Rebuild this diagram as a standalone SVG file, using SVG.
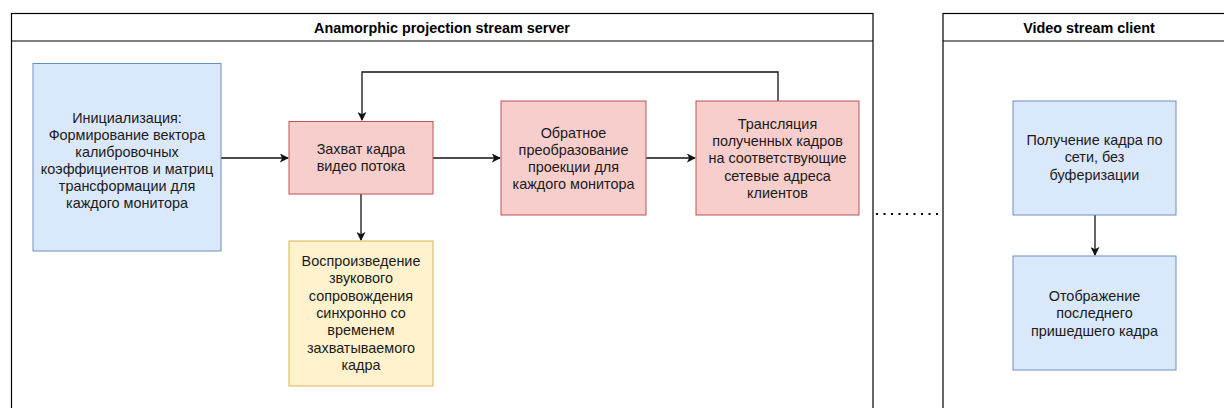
<svg xmlns="http://www.w3.org/2000/svg" width="1224" height="408" viewBox="0 0 1224 408">
<style>
text{font-family:"Liberation Sans",Arial,sans-serif;font-size:14.4px;fill:#1a1a1a;text-anchor:middle}
.title{font-weight:bold;fill:#000}
.pool{fill:none;stroke:#000;stroke-width:1.2}
.blue{fill:#dae8fc;stroke:#6c8ebf;stroke-width:1}
.red{fill:#f8cecc;stroke:#b85450;stroke-width:1}
.yellow{fill:#fff2cc;stroke:#d6b656;stroke-width:1}
.edge{fill:none;stroke:#111;stroke-width:1.3}
.dot{fill:none;stroke:#000;stroke-width:2;stroke-dasharray:2 5.5}
</style>
<defs>
<marker id="arr" viewBox="0 0 10 10" refX="9" refY="5" markerWidth="9" markerHeight="9" markerUnits="userSpaceOnUse" orient="auto">
<path d="M0,0 L10,5 L0,10 L2.5,5 z" fill="#111"/>
</marker>
</defs>
<rect width="1224" height="408" fill="#fff"/>
<g id="server">
<rect class="pool" x="11.5" y="13.5" width="861.5" height="420"/>
<line class="pool" x1="11.5" y1="41" x2="873" y2="41"/>
<text class="title" x="442" y="32.5">Anamorphic projection stream server</text>
</g>
<g id="client">
<rect class="pool" x="943" y="13.5" width="300" height="420"/>
<line class="pool" x1="943" y1="41" x2="1243" y2="41"/>
<text class="title" x="1089" y="32.5">Video stream client</text>
</g>
<g id="connectors">
<line class="edge" x1="221" y1="158" x2="288" y2="158" marker-end="url(#arr)"/>
<line class="edge" x1="433" y1="158" x2="500" y2="158" marker-end="url(#arr)"/>
<line class="edge" x1="646" y1="158" x2="695" y2="158" marker-end="url(#arr)"/>
<line class="edge" x1="361" y1="194" x2="361" y2="240" marker-end="url(#arr)"/>
<polyline class="edge" points="778,101 778,72 362,72 362,120" marker-end="url(#arr)"/>
<line class="edge" x1="1095" y1="215" x2="1095" y2="255" marker-end="url(#arr)"/>
<line class="dot" x1="876" y1="214" x2="943" y2="214"/>
</g>
<g id="init">
<rect class="blue" x="33" y="63.5" width="188" height="187.5"/>
<text x="127" y="123"><tspan x="127">Инициализация:</tspan><tspan x="127" dy="16.9">Формирование вектора</tspan><tspan x="127" dy="16.9">калибровочных</tspan><tspan x="127" dy="16.9">коэффициентов и матриц</tspan><tspan x="127" dy="16.9">трансформации для</tspan><tspan x="127" dy="16.9">каждого монитора</tspan></text>
</g>
<g id="capture">
<rect class="red" x="289" y="121.5" width="144" height="72.5"/>
<text x="361" y="154"><tspan x="361">Захват кадра</tspan><tspan x="361" dy="17.2">видео потока</tspan></text>
</g>
<g id="audio">
<rect class="yellow" x="289" y="241" width="144" height="145"/>
<text x="361" y="266"><tspan x="361">Воспроизведение</tspan><tspan x="361" dy="17.3">звукового</tspan><tspan x="361" dy="17.3">сопровождения</tspan><tspan x="361" dy="17.3">синхронно со</tspan><tspan x="361" dy="17.3">временем</tspan><tspan x="361" dy="17.3">захватываемого</tspan><tspan x="361" dy="17.3">кадра</tspan></text>
</g>
<g id="inverse">
<rect class="red" x="501" y="101" width="145" height="114"/>
<text x="573.5" y="137.5"><tspan x="573.5">Обратное</tspan><tspan x="573.5" dy="17.3">преобразование</tspan><tspan x="573.5" dy="17.3">проекции для</tspan><tspan x="573.5" dy="17.3">каждого монитора</tspan></text>
</g>
<g id="broadcast">
<rect class="red" x="696" y="101" width="163" height="114"/>
<text x="777.5" y="129"><tspan x="777.5">Трансляция</tspan><tspan x="777.5" dy="17.2">полученных кадров</tspan><tspan x="777.5" dy="17.2">на соответствующие</tspan><tspan x="777.5" dy="17.2">сетевые адреса</tspan><tspan x="777.5" dy="17.2">клиентов</tspan></text>
</g>
<g id="receive">
<rect class="blue" x="1013" y="101" width="163" height="114"/>
<text x="1094.5" y="145"><tspan x="1094.5">Получение кадра по</tspan><tspan x="1094.5" dy="17.4">сети, без</tspan><tspan x="1094.5" dy="17.4">буферизации</tspan></text>
</g>
<g id="display">
<rect class="blue" x="1013" y="256" width="163" height="114"/>
<text x="1094.5" y="301"><tspan x="1094.5">Отображение</tspan><tspan x="1094.5" dy="17.4">последнего</tspan><tspan x="1094.5" dy="17.4">пришедшего кадра</tspan></text>
</g>
</svg>
